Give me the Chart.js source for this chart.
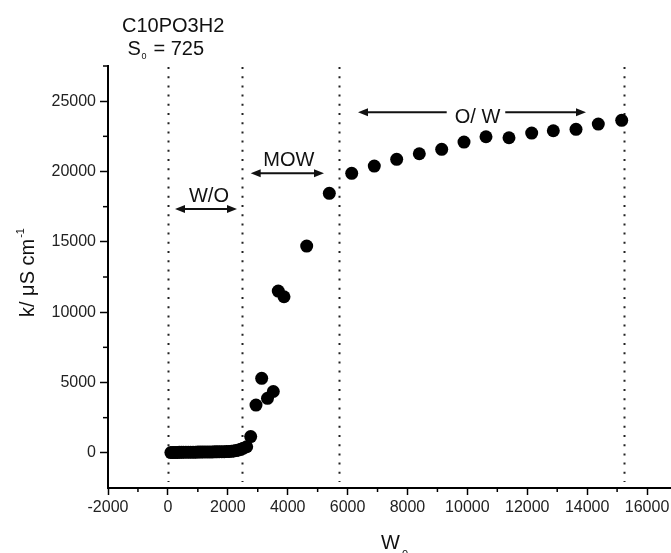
<!DOCTYPE html>
<html><head><meta charset="utf-8">
<script src="https://cdn.jsdelivr.net/npm/chart.js@4.4.0/dist/chart.umd.min.js"></script>
<style>html,body{margin:0;padding:0;background:#fff}#wrap{width:671px;height:553px}</style>
</head><body><div id="wrap"><canvas id="c" width="671" height="553"></canvas></div>
<script>
// ---- data (W0 vs conductivity k / µS cm-1) ----
const lowW  = [100,170,240,310,380,450,520,600,680,760,840,920,1000,1080,1160,1240,1320,1400,1480,1560,1640,1720,1800,1880,1960,2040,2120,2200,2280,2360,2440,2520];
const lowK  = [20,25,30,30,35,35,40,40,45,45,50,50,55,55,60,60,60,65,65,70,70,75,80,85,90,100,110,130,160,200,260,330];
const riseW = [2631,2765,2942,3132,3326,3520,3686,3877,4635,5390];
const riseK = [434,1159,3398,5296,3874,4360,11502,11097,14701,18447];
const owW   = [6138,6892,7640,8395,9143,9888,10622,11390,12148,12870,13628,14372,15154];
const owK   = [19869,20388,20864,21263,21575,22094,22471,22400,22734,22898,22997,23374,23637];

const xTicks = [-2000,0,2000,4000,6000,8000,10000,12000,14000,16000];
const yTicks = [0,5000,10000,15000,20000,25000];
const xMinor = [-1000,1000,3000,5000,7000,9000,11000,13000,15000];
const yMinor = [2500,7500,12500,17500,22500,27500];
const boundaries = [0,2480,5710,15240];
const regionNames = ['W/O','MOW','O/ W'];
const regionArrowFrom = [237,2765,6348];
const regionArrowTo   = [2307,5213,13962];
const regionArrowK    = [17331,19869,24205];
const regionTextW     = [1372,4037,10338];
const regionTextK     = [17850,20410,23466];

const FONT = "'Liberation Sans', Arial, Helvetica, sans-serif";
const pts = [];
[[lowW,lowK],[riseW,riseK],[owW,owK]].forEach(([xs,ys]) => xs.forEach((x,i)=>pts.push({x:x,y:ys[i]})));

function arrowHead(ctx, x, y, dir) {
  ctx.beginPath();
  ctx.moveTo(x, y);
  ctx.lineTo(x - dir*10, y - 4);
  ctx.lineTo(x - dir*10, y + 4);
  ctx.closePath();
  ctx.fill();
}

const deco = {
  id: 'deco',
  beforeDatasetsDraw(chart) {
    const {ctx, chartArea:a, scales:{x, y}} = chart;
    ctx.save();
    ctx.strokeStyle = '#222';
    ctx.lineWidth = 2;
    ctx.setLineDash([2, 7.2]);
    boundaries.forEach(v => {
      const px = Math.round(x.getPixelForValue(v)) + 0.5;
      ctx.beginPath(); ctx.moveTo(px, a.top + 1); ctx.lineTo(px, a.bottom - 6); ctx.stroke();
    });
    ctx.restore();
  },
  afterDraw(chart) {
    const {ctx, chartArea:a, scales:{x, y}} = chart;
    ctx.save();
    // minor ticks
    ctx.strokeStyle = '#000'; ctx.lineWidth = 1.5;
    yMinor.forEach(v => {
      const py = y.getPixelForValue(v);
      ctx.beginPath(); ctx.moveTo(a.left, py); ctx.lineTo(a.left - 5, py); ctx.stroke();
    });
    xMinor.forEach(v => {
      const px = x.getPixelForValue(v);
      ctx.beginPath(); ctx.moveTo(px, a.bottom); ctx.lineTo(px, a.bottom + 4); ctx.stroke();
    });
    // region arrows and labels
    ctx.fillStyle = '#111'; ctx.strokeStyle = '#111'; ctx.lineWidth = 2;
    ctx.font = '20px ' + FONT;
    ctx.textAlign = 'center'; ctx.textBaseline = 'alphabetic';
    regionNames.forEach((name, i) => {
      const x1 = x.getPixelForValue(regionArrowFrom[i]);
      const x2 = x.getPixelForValue(regionArrowTo[i]);
      const py = y.getPixelForValue(regionArrowK[i]);
      const tx = x.getPixelForValue(regionTextW[i]);
      const ty = y.getPixelForValue(regionTextK[i]);
      ctx.fillText(name, tx, ty);
      if (i === 2) {
        const w = ctx.measureText(name).width;
        ctx.beginPath(); ctx.moveTo(x1 + 8, py); ctx.lineTo(tx - w/2 - 8, py); ctx.stroke();
        ctx.beginPath(); ctx.moveTo(tx + w/2 + 5, py); ctx.lineTo(x2 - 8, py); ctx.stroke();
      } else {
        ctx.beginPath(); ctx.moveTo(x1 + 8, py); ctx.lineTo(x2 - 8, py); ctx.stroke();
      }
      arrowHead(ctx, x1, py, -1);
      arrowHead(ctx, x2, py, 1);
    });
    // title
    ctx.fillStyle = '#111';
    ctx.textAlign = 'left';
    ctx.font = '20px ' + FONT;
    ctx.fillText('C10PO3H2', 122, 32);
    ctx.fillText('S', 127.5, 54.5);
    ctx.font = '9px ' + FONT;
    ctx.fillText('0', 141.5, 59);
    ctx.font = '20px ' + FONT;
    ctx.fillText('= 725', 153.5, 54.5);
    // x title
    ctx.font = '20px ' + FONT;
    ctx.fillText('W', 381, 548.5);
    ctx.font = '11px ' + FONT;
    ctx.fillText('0', 402, 558);
    // y title
    ctx.save();
    ctx.translate(33.5, 317);
    ctx.rotate(-Math.PI/2);
    ctx.font = '20px ' + FONT;
    ctx.fillText('k/ \u03bcS cm', 0, 0);
    const w = ctx.measureText('k/ \u03bcS cm').width;
    ctx.font = '11px ' + FONT;
    ctx.fillText('-1', w + 1, -10);
    ctx.restore();
    ctx.restore();
  }
};

new Chart(document.getElementById('c'), {
  type: 'scatter',
  data: { datasets: [{
    data: pts,
    backgroundColor: '#000',
    borderColor: '#000',
    borderWidth: 0,
    pointRadius: 6.5,
    pointHoverRadius: 6.5
  }]},
  options: {
    responsive: false,
    animation: false,
    devicePixelRatio: 1,
    layout: { autoPadding: false, padding: { top: 66, left: 0, right: 0, bottom: 0 } },
    plugins: { legend: { display: false }, tooltip: { enabled: false } },
    scales: {
      x: {
        type: 'linear', min: -2000, max: 16800,
        afterBuildTicks: s => { s.ticks = xTicks.map(v => ({value: v})); },
        afterFit: s => { s.height = 65; s.paddingLeft = 0; s.paddingRight = 0; },
        grid: { display: true, drawOnChartArea: false, drawTicks: true, tickLength: 7, tickColor: '#000', tickWidth: 1.5, color: '#000' },
        border: { display: true, color: '#000', width: 2 },
        ticks: { color: '#222', padding: 3, maxRotation: 0, autoSkip: false, font: { family: FONT, size: 16 }, callback: v => String(v) }
      },
      y: {
        type: 'linear', min: -2500, max: 27500,
        afterBuildTicks: s => { s.ticks = yTicks.map(v => ({value: v})); },
        afterFit: s => { s.width = 108; s.paddingTop = 0; s.paddingBottom = 0; },
        grid: { display: true, drawOnChartArea: false, drawTicks: true, tickLength: 8, tickColor: '#000', tickWidth: 1.5, color: '#000' },
        border: { display: true, color: '#000', width: 2 },
        ticks: { color: '#222', padding: 4, autoSkip: false, font: { family: FONT, size: 16 }, callback: v => String(v) }
      }
    }
  },
  plugins: [deco]
});
</script>
</body></html>
